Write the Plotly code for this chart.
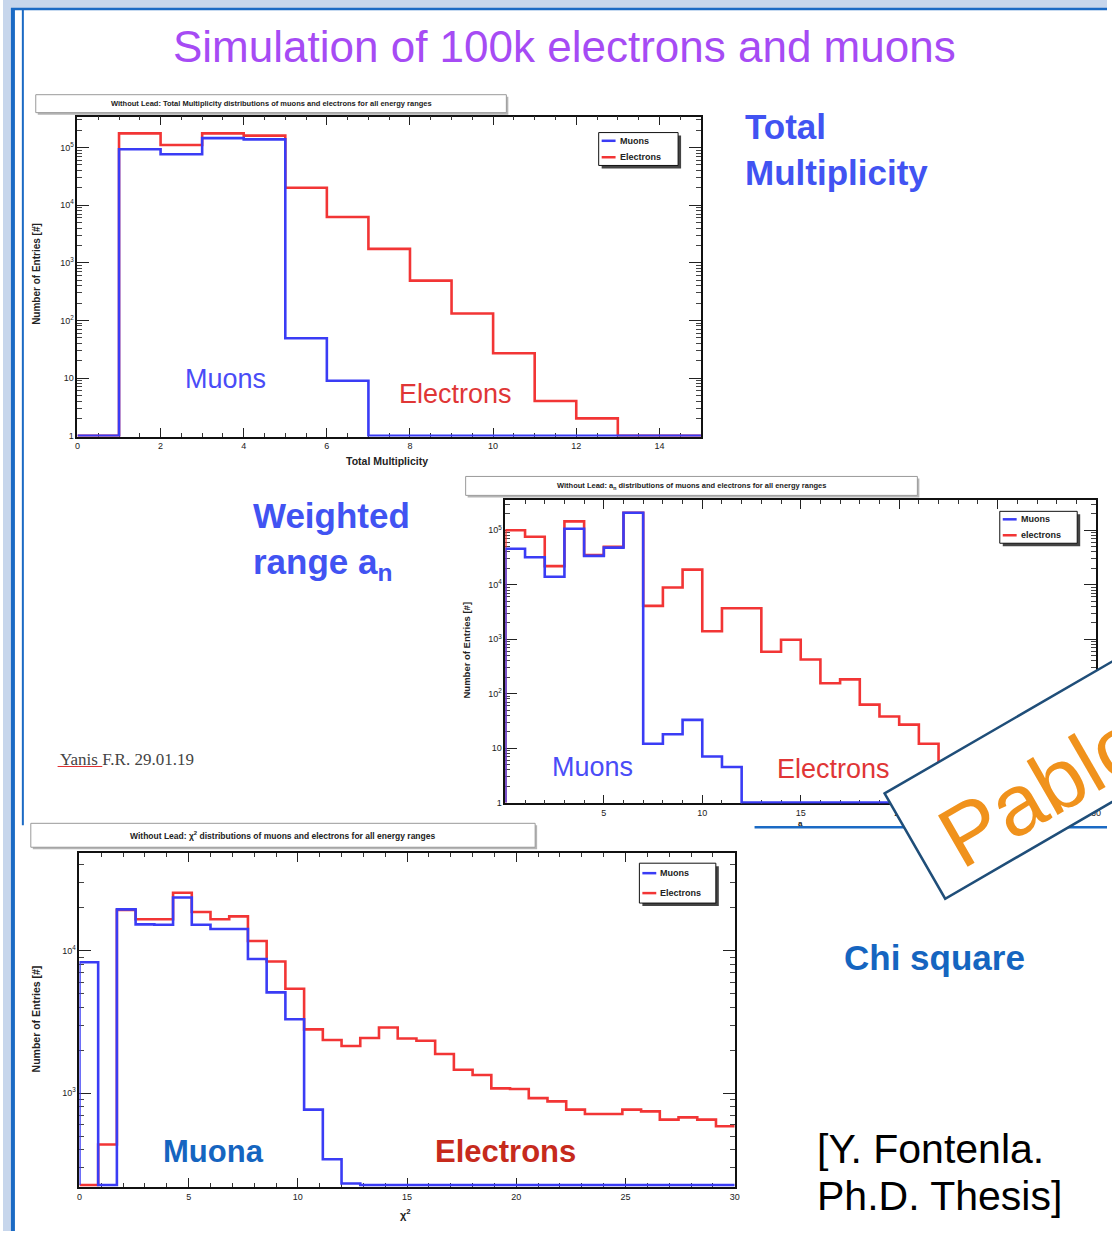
import math
import numpy as np
import plotly.graph_objects as go

W, H = 1112, 1235

# ---------------- data ----------------
# Total multiplicity: 15 bins of width 1 on [0, 15]
mult_edges = np.arange(0, 16)
mult_muons = [0, 9.3e4, 7.6e4, 1.45e5, 1.38e5, 49, 9, 0, 0, 0, 0, 0, 0, 0, 0]
mult_electrons = [0, 1.75e5, 1.1e5, 1.75e5, 1.6e5, 2.0e4, 6.2e3, 1.74e3, 490, 132, 27, 4, 2, 0, 0]
mult_xticks = [0, 2, 4, 6, 8, 10, 12, 14]

# Weighted range a_n: 30 bins of width 1 on [0, 30]
an_edges = np.arange(0, 31)
an_muons = [4.6e4, 3.2e4, 1.4e4, 1.07e5, 3.4e4, 4.8e4, 2.1e5, 12, 18, 33, 7, 4.5,
            0, 0, 0, 0, 0, 0, 0, 0, 0, 0, 0, 0, 0, 0, 0, 0, 0, 0]
an_electrons = [1.0e5, 7.6e4, 2.2e4, 1.46e5, 3.5e4, 5.0e4, 2.1e5, 4.1e3, 8.9e3, 1.9e4,
                1.4e3, 3.7e3, 3.7e3, 590, 980, 425, 155, 183, 63, 38,
                27, 12, 5, 3, 2, 2, 1, 1, 0, 0]
an_xticks = [5, 10, 15, 20, 25, 30]

# Chi square: 35 bins on [0, 30]
chi_edges = np.linspace(0, 30, 36)
chi_muons = [8.3e3, 0, 1.95e4, 1.53e4, 1.52e4, 2.36e4, 1.52e4, 1.42e4, 1.42e4, 8.75e3,
             5.1e3, 3.3e3, 766, 343, 232, 0, 0, 0, 0, 0, 0, 0, 0, 0, 0,
             0, 0, 0, 0, 0, 0, 0, 0, 0, 0]
chi_electrons = [0, 436, 1.93e4, 1.66e4, 1.66e4, 2.55e4, 1.87e4, 1.66e4, 1.74e4, 1.17e4,
                 8.4e3, 5.4e3, 2.8e3, 2.36e3, 2.14e3, 2.44e3, 2.89e3, 2.42e3, 2.33e3, 1.88e3,
                 1.46e3, 1.34e3, 1.08e3, 1.07e3, 923, 875, 766, 713, 713, 766,
                 745, 652, 676, 652, 585]
chi_xticks = [0, 5, 10, 15, 20, 25, 30]

log_ticks = [1, 10, 100, 1e3, 1e4, 1e5]
log_ticktext = ["1", "10", "10<sup>2</sup>", "10<sup>3</sup>", "10<sup>4</sup>", "10<sup>5</sup>"]
log_minor = [m * 10.0 ** k for k in range(0, 6) for m in range(2, 10)]

BLUE_H = "#3a3cf5"
RED_H = "#f23535"


def px(x, y):
    """pixel position on the page -> paper coordinates"""
    return x / W, 1 - y / H


def xdom(x0, x1):
    return [x0 / W, x1 / W]


def ydom(y0, y1):
    return [1 - y1 / H, 1 - y0 / H]


def steps(edges, counts, floor):
    """ROOT-style outline: empty bins sit on the axis floor"""
    c = np.where(np.asarray(counts, float) > 0, counts, floor)
    xs = np.r_[edges[0], edges[:-1], edges[-1]]
    ys = np.r_[floor, c, c[-1]]
    return xs, ys


fig = go.Figure()

panels = [
    # (edges, muons, electrons, xaxis, yaxis, log-range)
    (mult_edges, mult_muons, mult_electrons, "x", "y", [-0.015, 5.534]),
    (an_edges, an_muons, an_electrons, "x2", "y2", [-0.015, 5.55]),
    (chi_edges, chi_muons, chi_electrons, "x3", "y3", [2.34, 4.684]),
]
for edges, mu, el, xa, ya, yr in panels:
    floor = 10 ** (yr[0] + 0.015)
    for counts, col in ((el, RED_H), (mu, BLUE_H)):
        xs, ys = steps(edges, counts, floor)
        fig.add_trace(go.Scatter(x=xs, y=ys, mode="lines", line_shape="hv",
                                 line=dict(color=col, width=2.6),
                                 xaxis=xa, yaxis=ya, showlegend=False,
                                 hoverinfo="skip"))

tickfont = dict(family="Liberation Sans", size=9, color="#222")
common_x = dict(ticks="inside", ticklen=9, tickwidth=1, tickcolor="#222",
                mirror="allticks", showline=True, linecolor="#111", linewidth=1.6,
                showgrid=False, zeroline=False, tickfont=tickfont, layer="below traces")
common_y = dict(type="log", tickvals=log_ticks, ticktext=log_ticktext,
                ticks="inside", ticklen=12, tickwidth=1, tickcolor="#222",
                mirror="allticks", showline=True, linecolor="#111", linewidth=1.6,
                showgrid=False, zeroline=False, tickfont=tickfont, layer="below traces",
                minor=dict(tickmode="array", tickvals=log_minor, ticks="inside",
                           ticklen=5, tickcolor="#444", showgrid=False))


def xminor(step):
    return dict(ticks="inside", ticklen=4, tickcolor="#333", dtick=step, showgrid=False)


fig.update_layout(
    width=W, height=H, margin=dict(l=0, r=0, t=0, b=0),
    paper_bgcolor="white", plot_bgcolor="rgba(0,0,0,0)",
    showlegend=False,
    xaxis=dict(domain=xdom(75, 703), anchor="y", range=[0, 15], tickvals=mult_xticks,
               minor=xminor(0.5), **common_x),
    yaxis=dict(domain=ydom(117, 438), anchor="x", range=panels[0][5], **common_y),
    xaxis2=dict(domain=xdom(506, 1101), anchor="y2", range=[0, 30], tickvals=an_xticks,
                minor=xminor(1), **common_x),
    yaxis2=dict(domain=ydom(502, 806), anchor="x2", range=panels[1][5], **common_y),
    xaxis3=dict(domain=xdom(77, 737), anchor="y3", range=[0, 30], tickvals=chi_xticks,
                minor=xminor(1), **common_x),
    yaxis3=dict(domain=ydom(856, 1191), anchor="x3", range=panels[2][5], **common_y),
)

shapes = []
ann = []


def rect(x0, y0, x1, y1, fill="white", line="black", lw=1, layer="above"):
    a, b = px(x0, y0)
    c, d = px(x1, y1)
    shapes.append(dict(type="rect", xref="paper", yref="paper", x0=a, y0=b, x1=c, y1=d,
                       fillcolor=fill, line=dict(color=line, width=lw), layer=layer))


def seg(x0, y0, x1, y1, color, lw, layer="above"):
    a, b = px(x0, y0)
    c, d = px(x1, y1)
    shapes.append(dict(type="line", xref="paper", yref="paper", x0=a, y0=b, x1=c, y1=d,
                       line=dict(color=color, width=lw), layer=layer))


def text(x, y, s, size, color, family="Liberation Sans", xanchor="center",
         yanchor="middle", angle=0, align="center"):
    a, b = px(x, y)
    ann.append(dict(xref="paper", yref="paper", x=a, y=b, text=s, showarrow=False,
                    xanchor=xanchor, yanchor=yanchor, textangle=angle, align=align,
                    font=dict(size=size, color=color, family=family)))


# slide frame
rect(0, 0, W, 8, fill="#c7d6ec", line="rgba(0,0,0,0)", lw=0, layer="below")
rect(0, 0, 8, H, fill="#c7d6ec", line="rgba(0,0,0,0)", lw=0, layer="below")
seg(8, 9, W, 9, "#1b6ac4", 2.5)
seg(10, 8, 10, H, "#1b6ac4", 4)
seg(20, 10, 20, 828, "#1b6ac4", 2)
seg(757, 830, W, 830, "#1b6ac4", 2.5)

# histogram title boxes (with drop shadow)
for (x0, y0, x1, y1, s) in [
    (33, 95, 507, 113, "Without Lead: Total Multiplicity distributions of muons and electrons for all energy ranges"),
    (466, 478, 921, 497, "Without Lead: a<sub>n</sub> distributions of muons and electrons for all energy ranges"),
    (28, 826, 536, 850, "Without Lead: χ<sup>2</sup> distributions of muons and electrons for all energy ranges"),
]:
    rect(x0 + 2, y0 + 2, x1 + 2, y1 + 2, fill="#b5b5b5", line="rgba(0,0,0,0)", lw=0)
    rect(x0, y0, x1, y1, fill="white", line="#9a9a9a", lw=1)
    text((x0 + x1) / 2, (y0 + y1) / 2, "<b>" + s + "</b>", 7.5 if y0 < 800 else 8.5, "#222")

# legends (with drop shadow)
for (x0, y0, x1, y1, names) in [
    (600, 133, 680, 166, ["Muons", "Electrons"]),
    (1004, 513, 1082, 545, ["Muons", "electrons"]),
    (641, 866, 718, 906, ["Muons", "Electrons"]),
]:
    rect(x0 + 3, y0 + 3, x1 + 3, y1 + 3, fill="#444", line="rgba(0,0,0,0)", lw=0)
    rect(x0, y0, x1, y1, fill="white", line="#111", lw=1)
    hh = (y1 - y0) / 4
    for k, (nm, col) in enumerate(zip(names, [BLUE_H, RED_H])):
        yy = y0 + hh * (1 + 2 * k)
        seg(x0 + 3, yy, x0 + 17, yy, col, 2.5)
        text(x0 + 19, yy, "<b>" + nm + "</b>", 9, "#222", xanchor="left")

# axis titles
text(33, 275, "<b>Number of Entries [#]</b>", 10, "#222", angle=-90)
text(387, 462, "<b>Total Multiplicity</b>", 10.5, "#222")
text(467, 652, "<b>Number of Entries [#]</b>", 9.5, "#222", angle=-90)
text(803, 826, "<b>a</b>", 8, "#222")
text(33, 1022, "<b>Number of Entries [#]</b>", 10.5, "#222", angle=-90)
text(405, 1218, "<b>χ<sup>2</sup></b>", 11, "#222")

# in-plot labels
text(224, 380, "Muons", 27, "#4a4cf7")
text(456, 395, "Electrons", 27, "#e03636")
text(594, 769, "Muons", 27, "#4a4cf7")
text(837, 771, "Electrons", 27, "#e03636")
text(212, 1155, "<b>Muona</b>", 31, "#1565c0")
text(506, 1155, "<b>Electrons</b>", 31, "#c62a1c")

# slide texts
text(566, 47, "Simulation of 100k electrons and muons", 44, "#a64bf4",
     family="Liberation Sans Narrow, Liberation Sans")
text(745, 150, "<b>Total<br>Multiplicity</b>", 35, "#4153f2", xanchor="left", align="left")
text(250, 543, "<b>Weighted<br>range a<sub>n</sub></b>", 35, "#4153f2", xanchor="left", align="left")
text(55, 762, "Yanis F.R. 29.01.19", 17, "#444", family="Liberation Serif", xanchor="left")
seg(55, 769, 100, 769, "#e03030", 1)
text(845, 961, "<b>Chi square</b>", 35, "#1565c0", xanchor="left")
text(818, 1153, "[Y. Fontenla.", 41, "black", xanchor="left")
text(818, 1200, "Ph.D. Thesis]", 41, "black", xanchor="left")

# rotated name tag
ang = math.radians(30)
u = (math.cos(ang), -math.sin(ang))
v = (math.sin(ang), math.cos(ang))
A = (888, 796)
L, Wd = 420, 122
corners = [A,
           (A[0] + L * u[0], A[1] + L * u[1]),
           (A[0] + L * u[0] + Wd * v[0], A[1] + L * u[1] + Wd * v[1]),
           (A[0] + Wd * v[0], A[1] + Wd * v[1])]
path = "M " + " L ".join(f"{px(*c)[0]:.5f},{px(*c)[1]:.5f}" for c in corners) + " Z"
shapes.append(dict(type="path", xref="paper", yref="paper", path=path,
                   fillcolor="white", line=dict(color="#1f4e79", width=2.5), layer="above"))
text(1047, 792, "Pablo", 86, "#f0921c", angle=-30)

fig.update_layout(shapes=shapes, annotations=ann)
fig.write_html("out.html")
